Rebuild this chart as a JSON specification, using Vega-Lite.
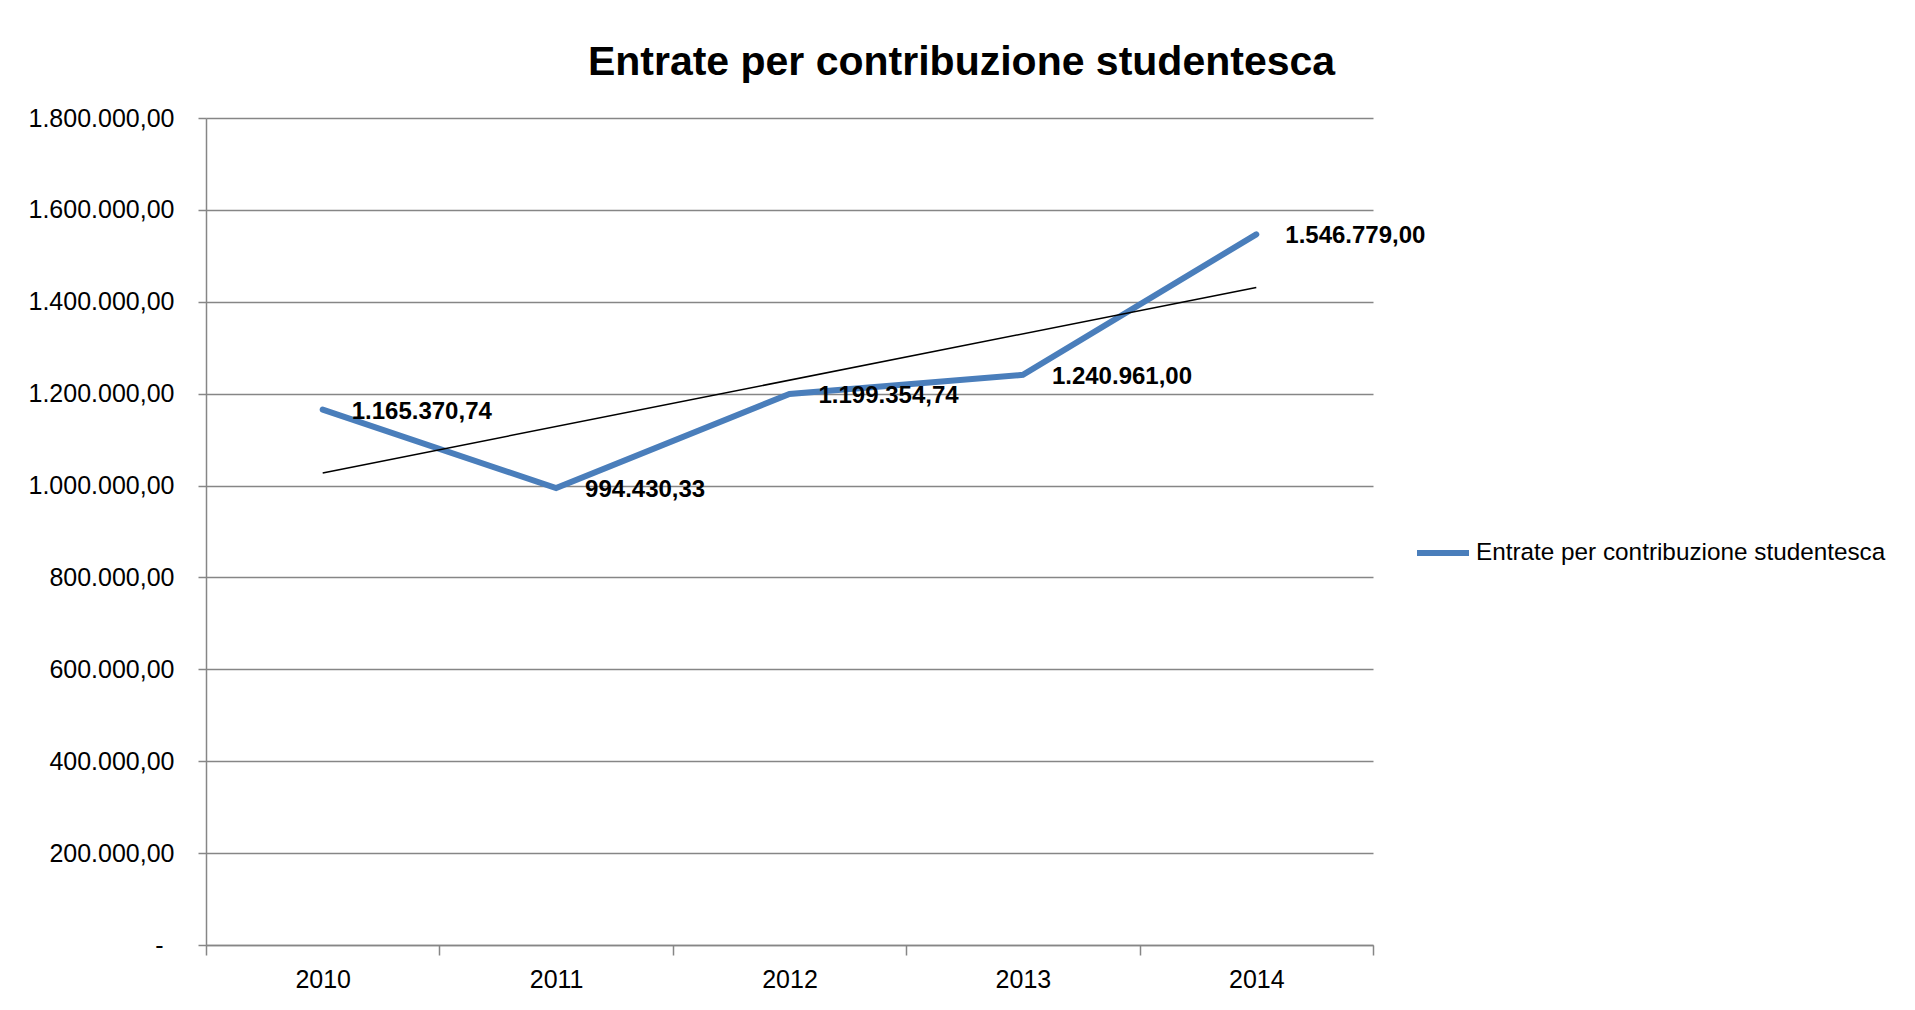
{
  "$schema": "https://vega.github.io/schema/vega-lite/v6.json",
  "width": 1167,
  "height": 827,
  "autosize": {"type": "none"},
  "padding": {"left": 206, "top": 118, "right": 542, "bottom": 65},
  "background": "white",
  "config": {
    "locale": {"number": {"decimal": ",", "thousands": ".", "grouping": [3], "currency": ["", " €"]}},
    "view": {"stroke": null},
    "font": "Liberation Sans"
  },
  "title": {
    "text": "Entrate per contribuzione studentesca",
    "fontSize": 41,
    "font": "Liberation Sans",
    "fontWeight": "bold",
    "color": "black",
    "anchor": "middle",
    "dx": 172,
    "baseline": "alphabetic",
    "offset": -10
  },
  "datasets": {
    "main": [
      {"year": "2010", "value": 1165370.74, "series": "Entrate per contribuzione studentesca"},
      {"year": "2011", "value": 994430.33, "series": "Entrate per contribuzione studentesca"},
      {"year": "2012", "value": 1199354.74, "series": "Entrate per contribuzione studentesca"},
      {"year": "2013", "value": 1240961.00, "series": "Entrate per contribuzione studentesca"},
      {"year": "2014", "value": 1546779.00, "series": "Entrate per contribuzione studentesca"}
    ],
    "trend": [
      {"year": "2010", "value": 1027510},
      {"year": "2014", "value": 1431249}
    ]
  },
  "encoding": {
    "x": {
      "field": "year",
      "type": "ordinal",
      "bandPosition": 0.5,
      "scale": {"type": "band", "paddingInner": 0, "paddingOuter": 0, "domain": ["2010", "2011", "2012", "2013", "2014"]},
      "axis": {
        "title": null,
        "tickBand": "extent",
        "tickSize": 10,
        "tickColor": "#868686",
        "tickWidth": 1.5,
        "domainColor": "#868686",
        "domainWidth": 1.5,
        "labelFontSize": 25,
        "labelColor": "black",
        "labelPadding": 12,
        "labelAngle": 0,
        "grid": false
      }
    },
    "y": {
      "field": "value",
      "type": "quantitative",
      "scale": {"domain": [0, 1800000], "nice": false, "zero": true},
      "axis": {
        "title": null,
        "values": [0, 200000, 400000, 600000, 800000, 1000000, 1200000, 1400000, 1600000, 1800000],
        "format": ",.2f",
        "labelExpr": "datum.value === 0 ? '-' : datum.label",
        "tickSize": 8,
        "tickColor": "#868686",
        "tickWidth": 1.5,
        "domainColor": "#868686",
        "domainWidth": 1.5,
        "gridColor": "#868686",
        "gridWidth": 1.5,
        "labelFontSize": 25,
        "labelColor": "black",
        "labelPadding": {"condition": {"test": "datum.value === 0", "value": 35}, "value": 24}
      }
    }
  },
  "layer": [
    {
      "data": {"name": "main"},
      "mark": {"type": "line", "strokeWidth": 6, "strokeCap": "round"},
      "encoding": {
        "color": {
          "field": "series",
          "type": "nominal",
          "scale": {"domain": ["Entrate per contribuzione studentesca"], "range": ["#4A7EBB"]},
          "legend": {
            "orient": "none",
            "legendX": 1208,
            "legendY": 406,
            "title": null,
            "symbolType": "stroke",
            "symbolStrokeWidth": 6,
            "symbolSize": 2704,
            "labelFontSize": 24.3,
            "labelColor": "black",
            "labelOffset": 4,
            "labelLimit": 700,
            "padding": 0
          }
        }
      }
    },
    {
      "data": {"name": "trend"},
      "mark": {"type": "line", "color": "black", "strokeWidth": 1.5},
      "encoding": {}
    },
    {
      "data": {"name": "main"},
      "mark": {"type": "text", "align": "left", "baseline": "middle", "dx": 29, "dy": 2, "fontWeight": "bold", "fontSize": 24, "color": "black"},
      "encoding": {
        "text": {"field": "value", "type": "quantitative", "format": ",.2f"}
      }
    }
  ]
}
